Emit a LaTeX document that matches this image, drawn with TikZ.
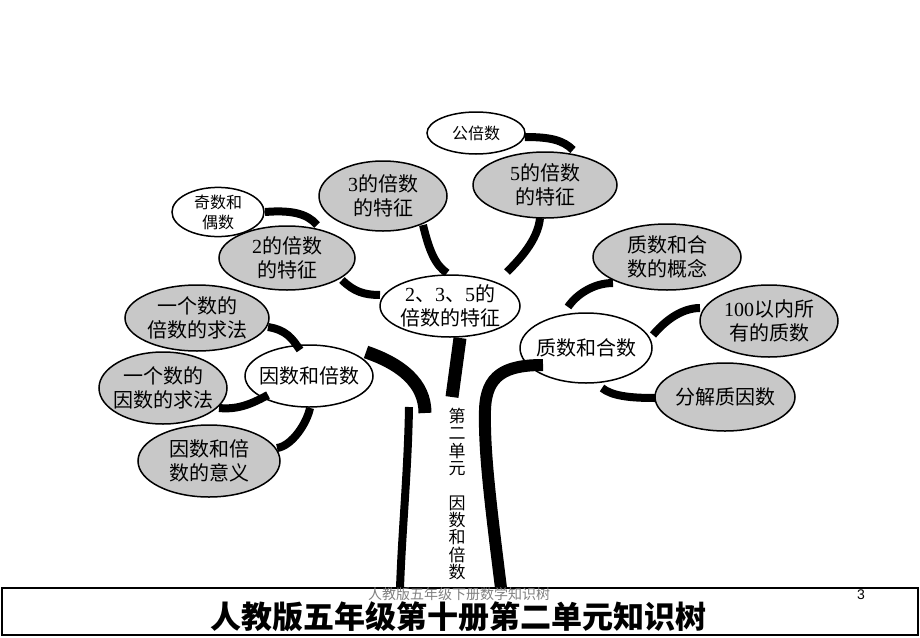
\documentclass[tikz,border=0pt]{standalone}
\usepackage{fontspec}
\setmainfont{Noto Sans CJK SC}
\newfontfamily\lat{Liberation Serif}
\newfontfamily\latsans{Liberation Sans}
\usetikzlibrary{shapes.geometric}
\definecolor{leafgray}{RGB}{200,200,200}
\begin{document}
\begin{tikzpicture}[x=1pt,y=-1pt,
  leaf/.style={ellipse,draw,line width=1.5pt,fill=leafgray,inner sep=0pt,align=center,font=\fontsize{20}{24}\selectfont},
  hub/.style={leaf,fill=white},
  smallhub/.style={hub,font=\fontsize{16}{20}\selectfont},
  branch/.style={line width=8pt,line cap=butt},
  trunk/.style={line width=13pt,line cap=butt}]
\useasboundingbox (0,0) rectangle (920,637);

% ellipses
\node[smallhub,minimum width=98pt,minimum height=42pt] (gbs) at (476,133) {公倍数};
\node[leaf,minimum width=144pt,minimum height=66pt] (n5) at (545,185) {{\lat 5}的倍数\\的特征};
\node[leaf,minimum width=128pt,minimum height=70pt] (n3) at (383,196) {{\lat 3}的倍数\\的特征};
\node[smallhub,minimum width=92pt,minimum height=40pt] (jo) at (218,212) {奇数和\\偶数};
\node[leaf,minimum width=136pt,minimum height=64pt] (n2) at (287,258) {{\lat 2}的倍数\\的特征};
\node[hub,minimum width=140pt,minimum height=62pt,inner xsep=-1pt] (c235) at (450,306) {{\lat 2}、{\lat 3}、{\lat 5}的\\倍数的特征};
\node[leaf,minimum width=144pt,minimum height=66pt,inner xsep=-1pt] (bq) at (197,318) {一个数的\\倍数的求法};
\node[hub,minimum width=128pt,minimum height=62pt,inner xsep=-5pt] (yb) at (309,376) {因数和倍数};
\node[leaf,minimum width=128pt,minimum height=72pt,inner xsep=-5pt] (yq) at (163,388) {一个数的\\因数的求法};
\node[leaf,minimum width=142pt,minimum height=72pt] (yy) at (209,461) {因数和倍\\数的意义};
\node[leaf,minimum width=148pt,minimum height=66pt] (gn) at (667,257) {质数和合\\数的概念};
\node[hub,minimum width=132pt,minimum height=70pt,inner xsep=-4pt] (zh) at (586,348) {质数和合数};
\node[leaf,minimum width=138pt,minimum height=72pt] (p100) at (769,321) {{\lat 100}以内所\\有的质数};
\node[leaf,minimum width=140pt,minimum height=68pt,inner xsep=-1pt] (fj) at (725,397) {分解质因数};

% branches
\draw[branch] ([shift={(49,4)}]gbs.center) .. controls +(25,0) and +(-10,-10) .. ([shift={(28,-35)}]n5.center);
\draw[branch] ([shift={(-5,33)}]n5.center) .. controls +(-2,22) and +(12,-12) .. ([shift={(57,-34)}]c235.center);
\draw[branch] ([shift={(40,29)}]n3.center) .. controls +(6,25) and +(-12,-8) .. ([shift={(-3,-33)}]c235.center);
\draw[branch] ([shift={(47,0)}]jo.center) .. controls +(25,-2) and +(-10,-12) .. ([shift={(30,-33)}]n2.center);
\draw[branch] ([shift={(55,22)}]n2.center) .. controls +(12,12) and +(-15,0) .. ([shift={(-70,-11)}]c235.center);
\draw[branch] ([shift={(71,9)}]bq.center) .. controls +(18,3) and +(-8,-12) .. ([shift={(-9,-26)}]yb.center);
\draw[branch] ([shift={(56,20)}]yq.center) .. controls +(20,2) and +(-15,8) .. ([shift={(-41,19)}]yb.center);
\draw[branch] ([shift={(68,-13)}]yy.center) .. controls +(15,-2) and +(-3,15) .. ([shift={(1,32)}]yb.center);
\draw[branch] ([shift={(-54,26)}]gn.center) .. controls +(-20,0) and +(8,-12) .. ([shift={(-18,-41)}]zh.center);
\draw[branch] ([shift={(-69,-13)}]p100.center) .. controls +(-20,0) and +(10,-12) .. ([shift={(67,-13)}]zh.center);
\draw[branch] ([shift={(-70,1)}]fj.center) .. controls +(-25,0) and +(10,8) .. ([shift={(16,40)}]zh.center);

% trunk
\coordinate (stubend) at (452,397);
\coordinate (leftcurveend) at (425,413);
\coordinate (lefttop) at (409,407);
\coordinate (leftbottom) at (400,588);
\coordinate (rightbottom) at (501,588);
\draw[trunk] ([shift={(10,32)}]c235.center) -- (stubend);
\draw[trunk] ([shift={(57,-24)}]yb.center) .. controls +(35,12) and +(0,-30) .. (leftcurveend);
\draw[branch] (lefttop) .. controls (408,470) and (402,530) .. (leftbottom);
\draw[line width=12pt,line cap=butt] (rightbottom) .. controls (490,500) and (484,450) .. (485,410)
  .. controls (486,375) and (505,365) .. ([shift={(-43,17)}]zh.center);

% vertical title
\node[font=\fontsize{17}{17.3}\selectfont,align=center,inner sep=0pt] (vt) at (457,494)
  {第\\二\\单\\元\\\mbox{}\\因\\数\\和\\倍\\数};

% bottom bar
\node[draw,line width=1.5pt,minimum width=916pt,minimum height=47pt,inner sep=0pt] (bar) at (460,611.5) {};
\node[font=\fontsize{14}{14}\selectfont,text=gray,inner sep=0pt] (sub) at (459,594) {人教版五年级下册数学知识树};
\node[font=\latsans\fontsize{14}{14}\selectfont,inner sep=0pt] (pg) at (861,595) {3};
\node[font=\fontsize{31}{31}\selectfont\bfseries,inner sep=0pt] (title) at (458,617) {人教版五年级第十册第二单元知识树};
\end{tikzpicture}
\end{document}
